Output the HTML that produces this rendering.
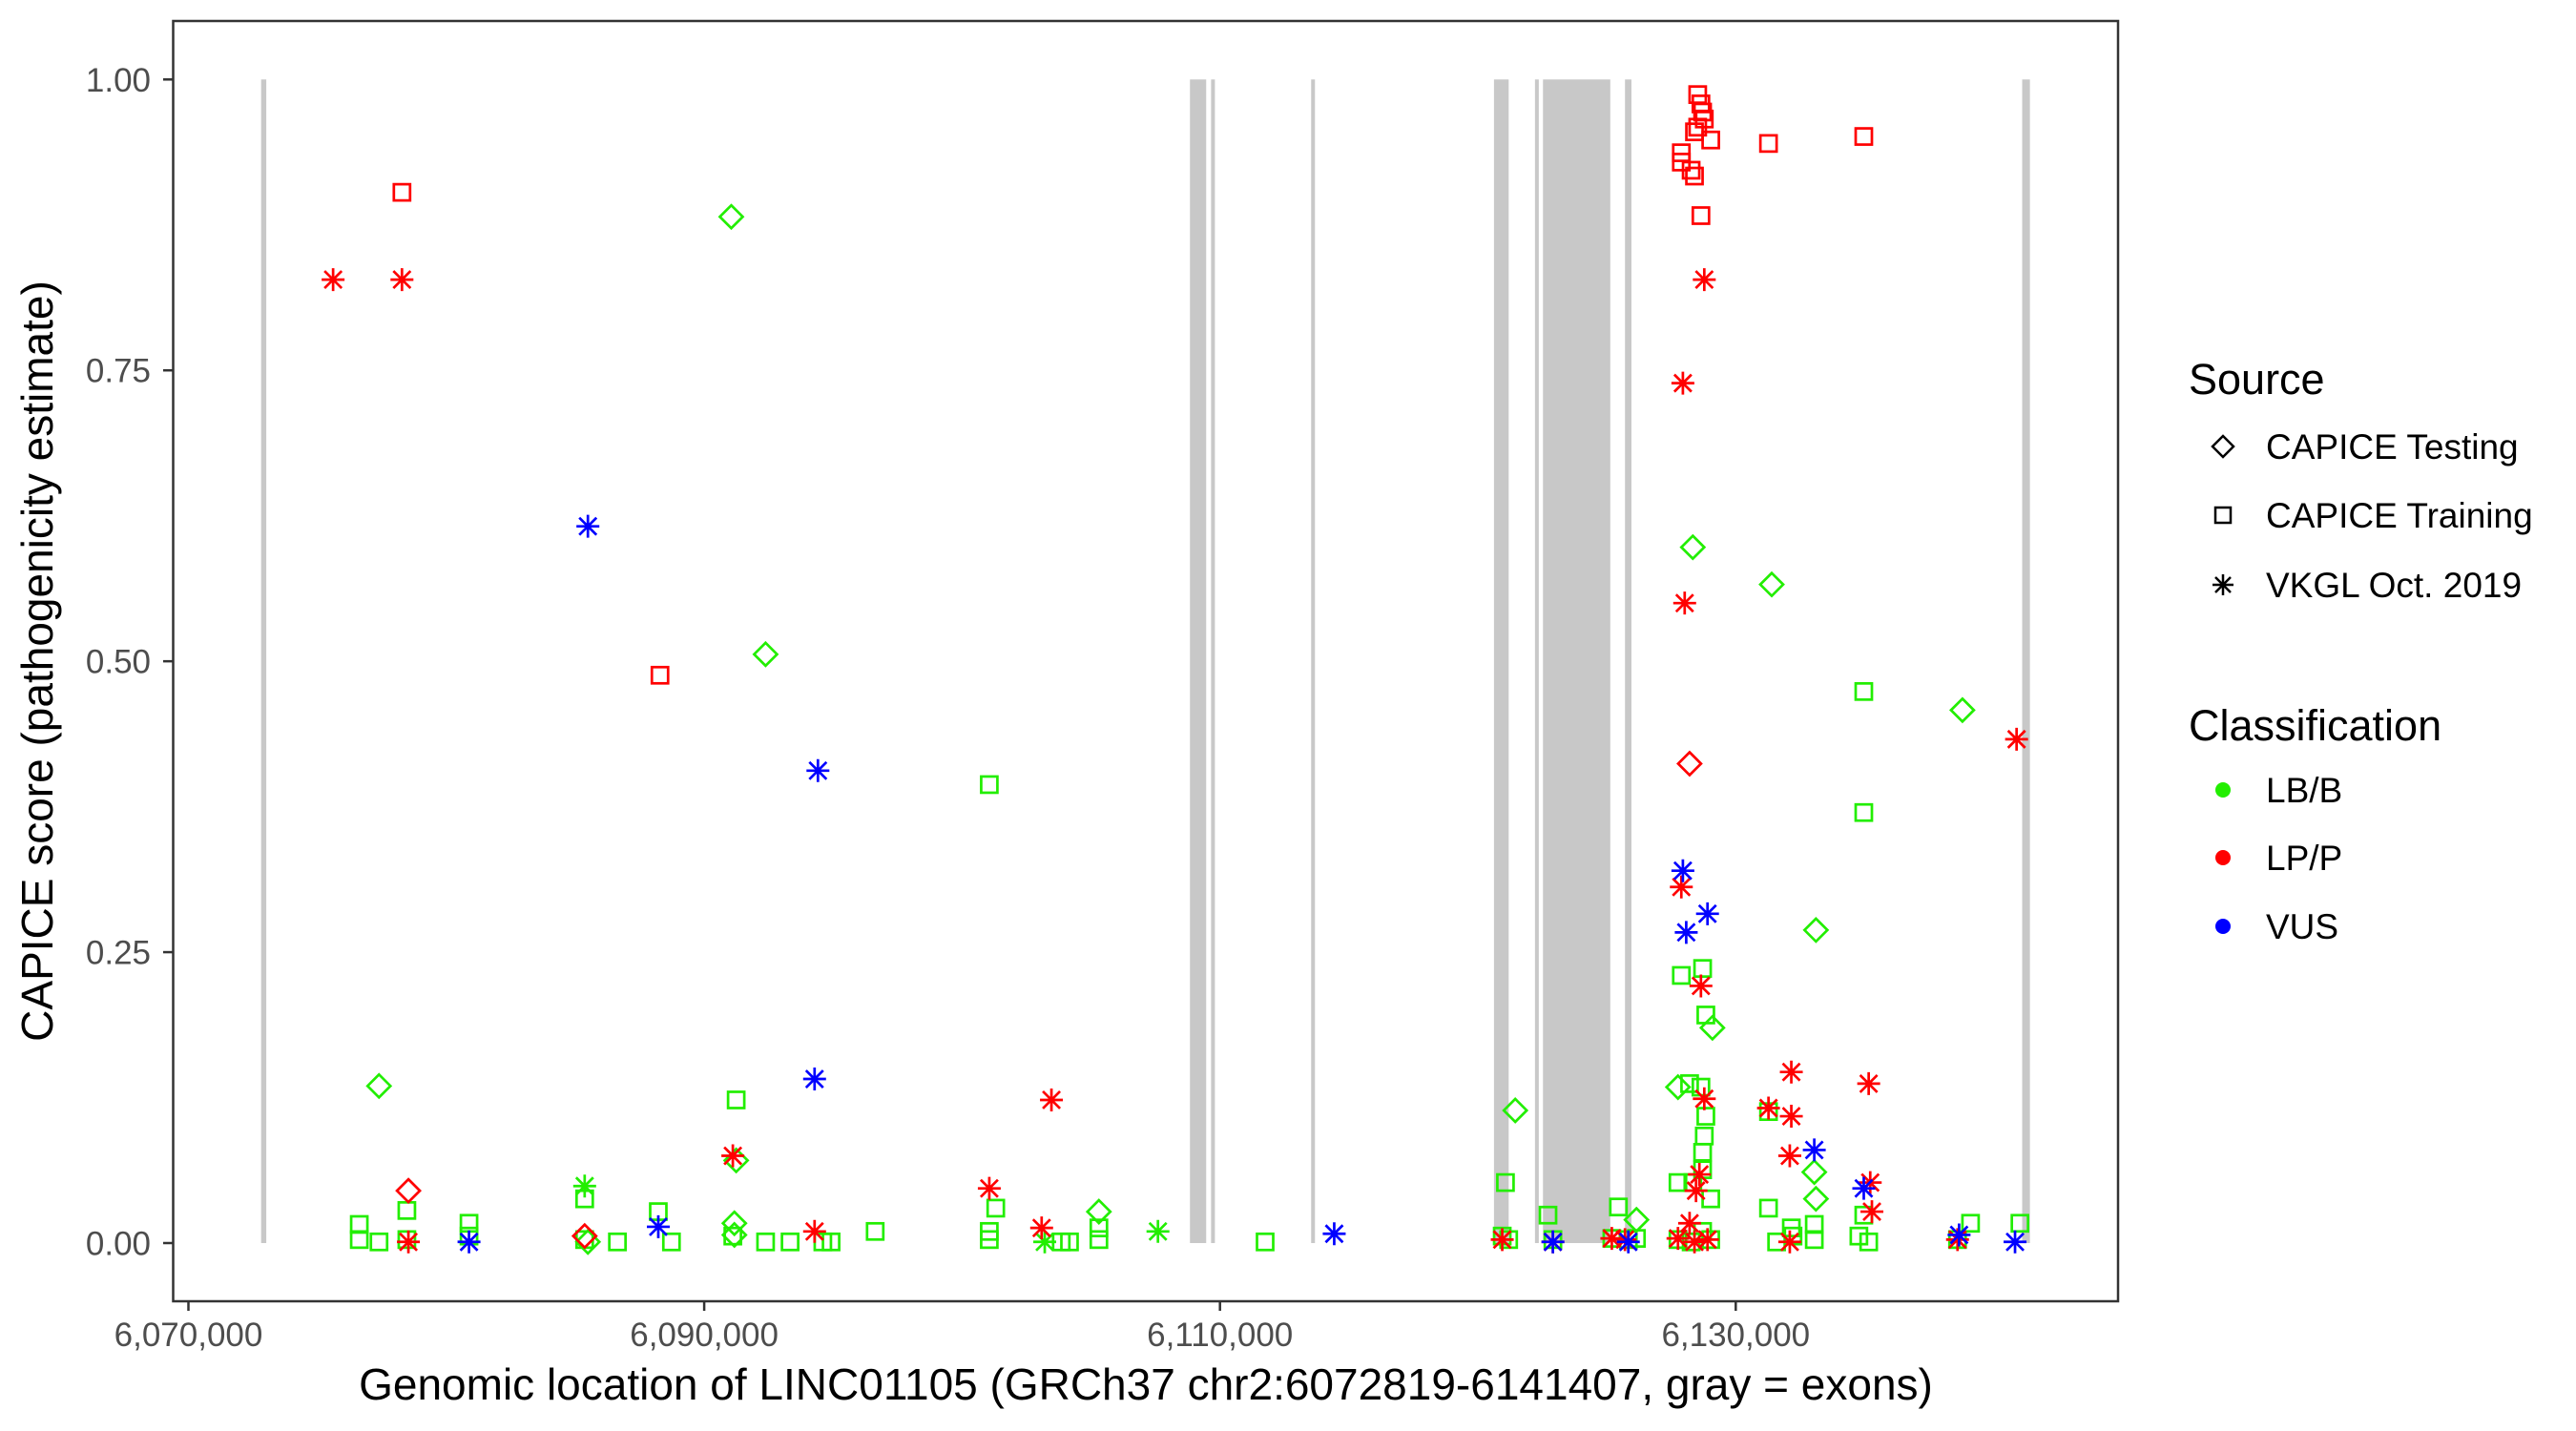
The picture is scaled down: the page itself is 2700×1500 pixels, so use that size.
<!DOCTYPE html>
<html><head><meta charset="utf-8"><style>
html,body{margin:0;padding:0;background:#fff}
svg{display:block}
text{font-family:"Liberation Sans",sans-serif}
</style></head><body>
<svg id="chart" width="2700" height="1500" viewBox="0 0 2700 1500" xmlns="http://www.w3.org/2000/svg">
<g id="exons"></g>
<g id="points"></g>
<rect x="181.5" y="22" width="2038.5" height="1342" fill="none" stroke="#333" stroke-width="2.5"/>
<g id="yaxis"></g>
<g id="xaxis"></g>
<text transform="translate(55,693) rotate(-90)" text-anchor="middle" font-size="46" fill="#000">CAPICE score (pathogenicity estimate)</text>
<text x="1201" y="1467" text-anchor="middle" font-size="46" fill="#000">Genomic location of LINC01105 (GRCh37 chr2:6072819-6141407, gray = exons)</text>
<g>
<text x="2294" y="413" font-size="45">Source</text>
<path d="M2330 457 L2341 468 L2330 479 L2319 468 Z" fill="none" stroke="#000" stroke-width="2.5"/>
<text x="2375" y="481" font-size="37">CAPICE Testing</text>
<rect x="2322" y="532" width="16" height="16" fill="none" stroke="#000" stroke-width="2.5"/>
<text x="2375" y="553" font-size="37">CAPICE Training</text>
<path d="M2330 602 V624 M2319 613 H2341 M2322 605 L2338 621 M2338 605 L2322 621" stroke="#000" stroke-width="2.5"/>
<text x="2375" y="626" font-size="37">VKGL Oct. 2019</text>
</g>
<g>
<text x="2294" y="776" font-size="45">Classification</text>
<circle cx="2330" cy="828" r="8" fill="#22ee00"/>
<text x="2375" y="841" font-size="37">LB/B</text>
<circle cx="2330" cy="899" r="8" fill="#ff0000"/>
<text x="2375" y="912" font-size="37">LP/P</text>
<circle cx="2330" cy="971" r="8" fill="#0000ff"/>
<text x="2375" y="984" font-size="37">VUS</text>
</g>
</svg>
<script>
const exonStarts=[6072819,6108835,6109655,6113535,6120625,6122215,6122525,6125705,6141107];
const exonEnds=[6073019,6109465,6109745,6113655,6121195,6122335,6125135,6125955,6141407];
const yTicks=[0,0.25,0.5,0.75,1];
const yTickLabels=["0.00","0.25","0.50","0.75","1.00"];
const xTicks=[6070000,6090000,6110000,6130000];
const xTickLabels=["6,070,000","6,090,000","6,110,000","6,130,000"];

// Training (squares)
const trainLPpos=[6078280,6088285,6128525,6128650,6128715,6128780,6128525,6128400,6129030,6127890,6127890,6128270,6128400,6128650,6131270,6134965];
const trainLPscore=[0.903,0.488,0.987,0.979,0.972,0.966,0.959,0.955,0.948,0.937,0.929,0.922,0.917,0.883,0.945,0.951];
const trainLBpos=[6134965,6134965,6101055,6091240,6085365,6088220,6078470,6076625,6080880,6128210,6128715,6128840,6127890,6128650,6128840,6128780,6128715,6128715,6127760,6128335,6129030,6121070,6122720,6125450,6131270,6131270,6133045,6134965,6139105,6141020,6096630,6101055,6105305,6111750,6088730,6086635,6077390,6076625,6092380,6094600,6101305,6132155,6120945,6121195,6122910,6125195,6125835,6126150,6127760,6128270,6128715,6129030,6131585,6132220,6133045,6134775,6135155,6138600,6093330,6094920,6103845,6104165,6091110,6085365,6078470,6080880,6101055,6105305];
const trainLBscore=[0.474,0.370,0.394,0.123,0.038,0.027,0.028,0.016,0.017,0.137,0.236,0.196,0.230,0.134,0.109,0.092,0.078,0.063,0.052,0.052,0.038,0.052,0.024,0.031,0.113,0.030,0.016,0.024,0.017,0.017,0.010,0.010,0.013,0.001,0.001,0.001,0.001,0.003,0.001,0.001,0.030,0.013,0.006,0.003,0.003,0.004,0.003,0.004,0.003,0.001,0.010,0.003,0.001,0.006,0.003,0.006,0.001,0.003,0.001,0.001,0.001,0.001,0.006,0.003,0.003,0.006,0.003,0.003];
// VKGL (asterisks)
const vkglLPpos=[6075610,6078280,6078530,6091110,6094280,6101055,6103085,6103465,6128780,6127950,6128020,6127890,6128650,6128780,6128460,6128210,6128590,6131270,6132155,6132155,6132095,6135155,6135215,6135280,6140890,6132095,6128905,6128400,6125705,6125195,6127760,6122910,6120945,6138600];
const vkglLPscore=[0.828,0.828,0.001,0.075,0.010,0.047,0.013,0.123,0.828,0.739,0.550,0.306,0.221,0.124,0.045,0.017,0.059,0.116,0.147,0.109,0.075,0.137,0.052,0.027,0.433,0.001,0.003,0.001,0.003,0.004,0.004,0.001,0.003,0.003];
const vkglVUSpos=[6085490,6094410,6094280,6088220,6080880,6114430,6127950,6128080,6128905,6133045,6134965,6138660,6140830,6122910,6125835];
const vkglVUSscore=[0.616,0.406,0.141,0.014,0.001,0.008,0.320,0.267,0.283,0.080,0.047,0.007,0.001,0.001,0.001];
const vkglLBpos=[6085365,6107595,6103205];
const vkglLBscore=[0.049,0.010,0.001];
// Testing (diamonds)
const testLBpos=[6077390,6091050,6092380,6091240,6091170,6128335,6131395,6138790,6133110,6129095,6127760,6121450,6133045,6133110,6105305,6091170,6085490,6126150];
const testLBscore=[0.135,0.882,0.506,0.071,0.017,0.598,0.566,0.458,0.269,0.185,0.134,0.114,0.061,0.038,0.027,0.007,0.001,0.020];
const testLPpos=[6078530,6085365,6128210];
const testLPscore=[0.045,0.006,0.412];

const NS="http://www.w3.org/2000/svg";
const X0=6070000, PX0=197.5, K=0.02703;
function xs(g){return PX0+(g-X0)*K;}
function ys(v){return 1303-v*1219.7;}
const GREEN="#22ee00",RED="#ff0000",BLUE="#0000ff";

const exG=document.getElementById('exons');
for(let i=0;i<exonStarts.length;i++){
  const r=document.createElementNS(NS,'rect');
  const a=xs(exonStarts[i]), b=xs(exonEnds[i]);
  r.setAttribute('x',a); r.setAttribute('y',ys(1));
  r.setAttribute('width',Math.max(b-a,4)); r.setAttribute('height',ys(0)-ys(1));
  r.setAttribute('fill','#c8c8c8');
  
  
  exG.appendChild(r);
}

const ptG=document.getElementById('points');
function mark(shape,g,v,col){
  const x=xs(g), y=ys(v);
  let el;
  if(shape==='square'){
    el=document.createElementNS(NS,'rect');
    el.setAttribute('x',x-8.5); el.setAttribute('y',y-8.5);
    el.setAttribute('width',17); el.setAttribute('height',17);
    el.setAttribute('fill','none');
  } else if(shape==='diamond'){
    el=document.createElementNS(NS,'path');
    el.setAttribute('d',`M${x} ${y-12} L${x+12} ${y} L${x} ${y+12} L${x-12} ${y} Z`);
    el.setAttribute('fill','none');
  } else {
    el=document.createElementNS(NS,'path');
    el.setAttribute('d',`M${x} ${y-12} V${y+12} M${x-12} ${y} H${x+12} M${x-9} ${y-9} L${x+9} ${y+9} M${x+9} ${y-9} L${x-9} ${y+9}`);
  }
  el.setAttribute('stroke',col); el.setAttribute('stroke-width','2.7');
  
  
  ptG.appendChild(el);
}
function series(shape,pos,sc,col){for(let i=0;i<pos.length;i++)mark(shape,pos[i],sc[i],col);}
series('square',trainLBpos,trainLBscore,GREEN);
series('diamond',testLBpos,testLBscore,GREEN);
series('asterisk',vkglLBpos,vkglLBscore,GREEN);
series('square',trainLPpos,trainLPscore,RED);
series('diamond',testLPpos,testLPscore,RED);
series('asterisk',vkglLPpos,vkglLPscore,RED);
series('asterisk',vkglVUSpos,vkglVUSscore,BLUE);

const yA=document.getElementById('yaxis');
yTicks.forEach((t,i)=>{
  const l=document.createElementNS(NS,'line');
  l.setAttribute('x1',171); l.setAttribute('x2',181.5); l.setAttribute('y1',ys(t)); l.setAttribute('y2',ys(t));
  l.setAttribute('stroke','#333'); l.setAttribute('stroke-width','2.5');
  
  
  yA.appendChild(l);
  const tx=document.createElementNS(NS,'text');
  tx.setAttribute('x',158); tx.setAttribute('y',ys(t)+12.5); tx.setAttribute('text-anchor','end');
  tx.setAttribute('font-size','35'); tx.setAttribute('fill','#4d4d4d');
  tx.textContent=yTickLabels[i];
  
  
  yA.appendChild(tx);
});
const xA=document.getElementById('xaxis');
xTicks.forEach((t,i)=>{
  const l=document.createElementNS(NS,'line');
  l.setAttribute('x1',xs(t)); l.setAttribute('x2',xs(t)); l.setAttribute('y1',1364); l.setAttribute('y2',1374);
  l.setAttribute('stroke','#333'); l.setAttribute('stroke-width','2.5');
  
  
  xA.appendChild(l);
  const tx=document.createElementNS(NS,'text');
  tx.setAttribute('x',xs(t)); tx.setAttribute('y',1411); tx.setAttribute('text-anchor','middle');
  tx.setAttribute('font-size','35'); tx.setAttribute('fill','#4d4d4d');
  tx.textContent=xTickLabels[i];
  
  
  xA.appendChild(tx);
});
</script>
</body></html>
